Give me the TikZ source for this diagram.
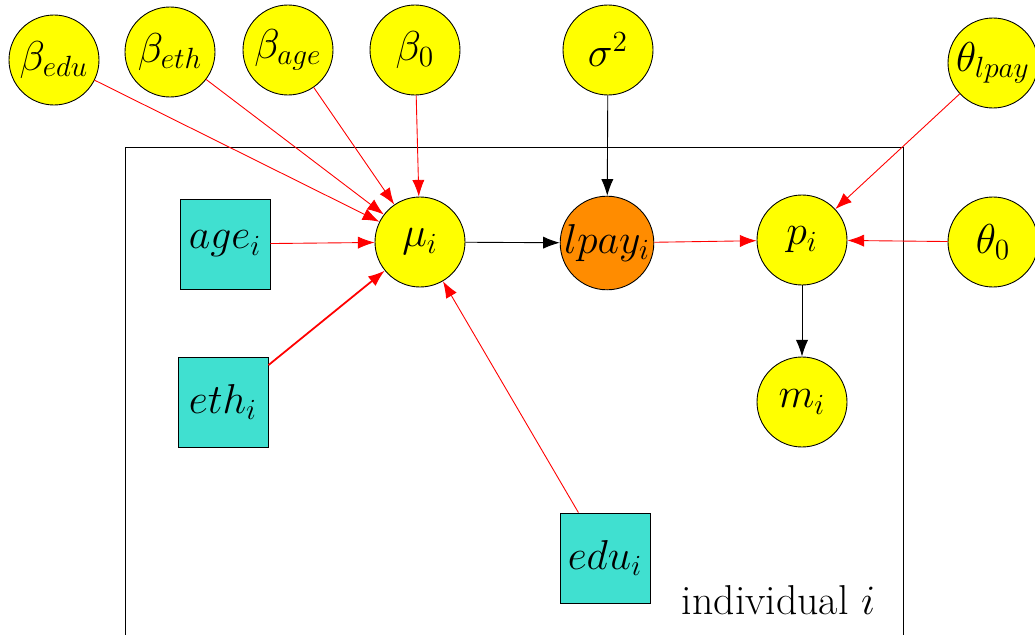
\RequirePackage{fix-cm}
\documentclass[tikz,border=0pt]{standalone}
\usepackage{amsmath,amssymb}
\usepackage{xcolor}
\usetikzlibrary{arrows.meta}
\definecolor{parfill}{RGB}{255,255,0}
\definecolor{datfill}{RGB}{64,224,208}
\definecolor{lpayfill}{RGB}{255,140,0}
\newcommand{\plabel}{\fontsize{18.8}{22}\selectfont}

\begin{document}
\begin{tikzpicture}[x=4.5pt,y=-4.5pt,
  par/.style={circle, draw=black, fill=parfill, minimum size=40.5pt, inner sep=0pt, font=\plabel},
  dat/.style={rectangle, draw=black, fill=datfill, minimum size=40.5pt, inner sep=0pt, font=\plabel},
  dep/.style={-{Latex[length=7.5pt,width=5.5pt]}, red},
  fix/.style={-{Latex[length=7.5pt,width=5.5pt]}, black}]
  \useasboundingbox (0,0) rectangle (103.5,63.5);

  % Plate (bottom edge runs off the page)
  \draw (12.5,63.5) |- (90.3,14.7) -- (90.3,63.5);
  \node[anchor=base east, font=\plabel] (plate) at (88.3,61.4) {individual $i$};

  % Hyperparameters
  \node[par] (bedu) at (5.4,6.0) {$\beta_{edu}$};
  \node[par] (beth) at (17.0,5.2) {$\beta_{eth}$};
  \node[par] (bage) at (28.8,5.0) {$\beta_{age}$};
  \node[par] (bzero) at (41.5,5.0) {$\beta_0$};
  \node[par] (sigma) at (60.8,5.0) {$\sigma^2$};
  \node[par] (tlpay) at (99.3,6.3) {$\theta_{lpay}$};
  \node[par] (tzero) at (99.3,24.2) {$\theta_0$};

  % Individual level nodes
  \node[par] (mu) at (42.0,24.2) {$\mu_i$};
  \node[circle, draw=black, fill=lpayfill, minimum size=40.5pt, inner sep=0pt, font=\plabel] (lpay) at (60.7,24.3) {$lpay_i$};
  \node[par] (p) at (80.2,24.0) {$p_i$};
  \node[par] (m) at (80.2,40.2) {$m_i$};

  % Observed covariates
  \node[dat] (age) at (22.5,24.4) {$age_i$};
  \node[dat] (eth) at (22.3,40.2) {$eth_i$};
  \node[dat] (edu) at (60.5,55.8) {$edu_i$};

  % Regression for the mean
  \draw[dep] (bedu) -- (mu);
  \draw[dep] (beth) -- (mu);
  \draw[dep] (bage) -- (mu);
  \draw[dep] (bzero) -- (mu);
  \draw[dep] (age) -- (mu);
  \draw[dep, thick] (eth) -- (mu);
  \draw[dep] (edu) -- (mu);

  % Log pay and the probability
  \draw[fix] (mu) -- (lpay);
  \draw[fix] (sigma) -- (lpay);
  \draw[dep] (lpay) -- (p);
  \draw[dep] (tlpay) -- (p);
  \draw[dep] (tzero) -- (p);
  \draw[fix] (p) -- (m);
\end{tikzpicture}
\end{document}
